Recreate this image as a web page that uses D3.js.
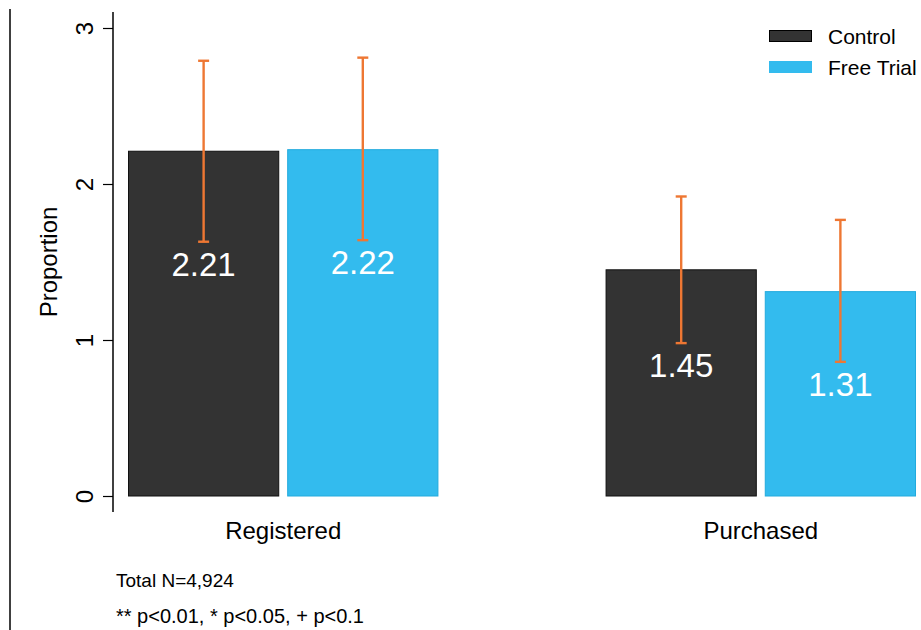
<!DOCTYPE html>
<html>
<head>
<meta charset="utf-8">
<script src="https://cdn.jsdelivr.net/npm/d3@7"></script>
<style>
  html, body { margin: 0; padding: 0; background: #fff; }
  svg { display: block; font-family: "Liberation Sans", Arial, sans-serif; }
</style>
</head>
<body>
<svg id="chart" width="921" height="630"></svg>
<script>
// Outcome categories and treatment groups
const categories = ["Registered", "Purchased"];
const groups = ["Control", "Free Trial"];

// Mean values per group, in category order
const controlValues = [2.21, 1.45];
const trialValues = [2.22, 1.31];

// Confidence interval bounds per group, in category order
const controlLower = [1.63, 0.98];
const controlUpper = [2.79, 1.92];
const trialLower = [1.64, 0.86];
const trialUpper = [2.81, 1.77];

const yTicks = [0, 1, 2, 3];
const notes = ["Total N=4,924", "** p<0.01, * p<0.05, + p<0.1"];

const colors = { "Control": "#333333", "Free Trial": "#33BBEE" };
const strokes = { "Control": "#111111", "Free Trial": "#22AADD" };
const errColor = "#EE7733";

const rows = [];
categories.forEach((c, i) => {
  rows.push({ cat: c, group: "Control", value: controlValues[i], lo: controlLower[i], hi: controlUpper[i] });
  rows.push({ cat: c, group: "Free Trial", value: trialValues[i], lo: trialLower[i], hi: trialUpper[i] });
});

const svg = d3.select("#chart");

const x0 = d3.scaleBand().domain(categories).range([128, 916]).paddingInner(0.35).paddingOuter(0);
const x1 = d3.scaleBand().domain(groups).range([0, x0.bandwidth()]).paddingInner(0.05);
const y = d3.scaleLinear().domain([0, 3]).range([496, 28]);

// Frame line on the left
svg.append("line")
  .attr("x1", 10).attr("x2", 10).attr("y1", 9).attr("y2", 630)
  .attr("stroke", "#000").attr("stroke-width", 1.5);

// Y axis
const axisX = 113;
const yAxis = svg.append("g")
  .attr("transform", `translate(${axisX},0)`)
  .call(d3.axisLeft(y).tickValues(yTicks).tickSize(10).tickPadding(10).tickFormat(d3.format("d")));
yAxis.select(".domain").remove();
yAxis.selectAll(".tick line").attr("stroke", "#000").attr("stroke-width", 1.2);
yAxis.selectAll(".tick text")
  .attr("font-size", 24)
  .attr("fill", "#000")
  .attr("transform", "rotate(-90)")
  .attr("x", 0).attr("y", -20)
  .attr("dy", 0)
  .attr("text-anchor", "middle");
svg.append("line")
  .attr("x1", axisX).attr("x2", axisX)
  .attr("y1", y(3) - 16).attr("y2", y(0) + 16)
  .attr("stroke", "#000").attr("stroke-width", 1.5);

// Y axis title
svg.append("text")
  .attr("transform", `translate(57,${(y(0) + y(3)) / 2}) rotate(-90)`)
  .attr("text-anchor", "middle")
  .attr("font-size", 24)
  .attr("fill", "#000")
  .text("Proportion");

// Bars
const barG = svg.append("g");
const bars = barG.selectAll("g.bar").data(rows).join("g")
  .attr("transform", d => `translate(${x0(d.cat) + x1(d.group)},0)`);

bars.append("rect")
  .attr("x", 0.5)
  .attr("y", d => y(d.value))
  .attr("width", x1.bandwidth() - 1)
  .attr("height", d => y(0) - y(d.value))
  .attr("fill", d => colors[d.group])
  .attr("stroke", d => strokes[d.group])
  .attr("stroke-width", 1);

// Error bars
const cx = x1.bandwidth() / 2;
const capW = 5.5;
const errW = 2.4;
bars.append("line")
  .attr("x1", cx).attr("x2", cx)
  .attr("y1", d => y(d.hi)).attr("y2", d => y(d.lo))
  .attr("stroke", errColor).attr("stroke-width", errW);
bars.append("line")
  .attr("x1", cx - capW).attr("x2", cx + capW)
  .attr("y1", d => y(d.hi)).attr("y2", d => y(d.hi))
  .attr("stroke", errColor).attr("stroke-width", errW);
bars.append("line")
  .attr("x1", cx - capW).attr("x2", cx + capW)
  .attr("y1", d => y(d.lo)).attr("y2", d => y(d.lo))
  .attr("stroke", errColor).attr("stroke-width", errW);

// Value labels below the lower bound
bars.append("text")
  .attr("x", cx)
  .attr("y", d => y(d.lo) + 34)
  .attr("text-anchor", "middle")
  .attr("font-size", 33)
  .attr("fill", "#fff")
  .text(d => d3.format(".2f")(d.value));

// Category labels
svg.append("g").selectAll("text").data(categories).join("text")
  .attr("x", d => x0(d) + x0.bandwidth() / 2)
  .attr("y", 539)
  .attr("text-anchor", "middle")
  .attr("font-size", 24)
  .attr("fill", "#000")
  .text(d => d);

// Legend
const legend = svg.append("g").attr("transform", "translate(769,30)");
const li = legend.selectAll("g").data(groups).join("g")
  .attr("transform", (d, i) => `translate(0,${i * 31})`);
li.append("rect")
  .attr("x", 0.5).attr("y", 0.5)
  .attr("width", 42).attr("height", 11)
  .attr("fill", d => colors[d])
  .attr("stroke", d => d === "Control" ? "#000" : colors[d])
  .attr("stroke-width", 1);
li.append("text")
  .attr("x", 59).attr("y", 14)
  .attr("font-size", 21)
  .attr("fill", "#000")
  .text(d => d);

// Footnotes
svg.append("g").selectAll("text").data(notes).join("text")
  .attr("x", 116)
  .attr("y", (d, i) => 587 + i * 36)
  .attr("font-size", (d, i) => i === 0 ? 19 : 20)
  .attr("fill", "#000")
  .text(d => d);
</script>
</body>
</html>
